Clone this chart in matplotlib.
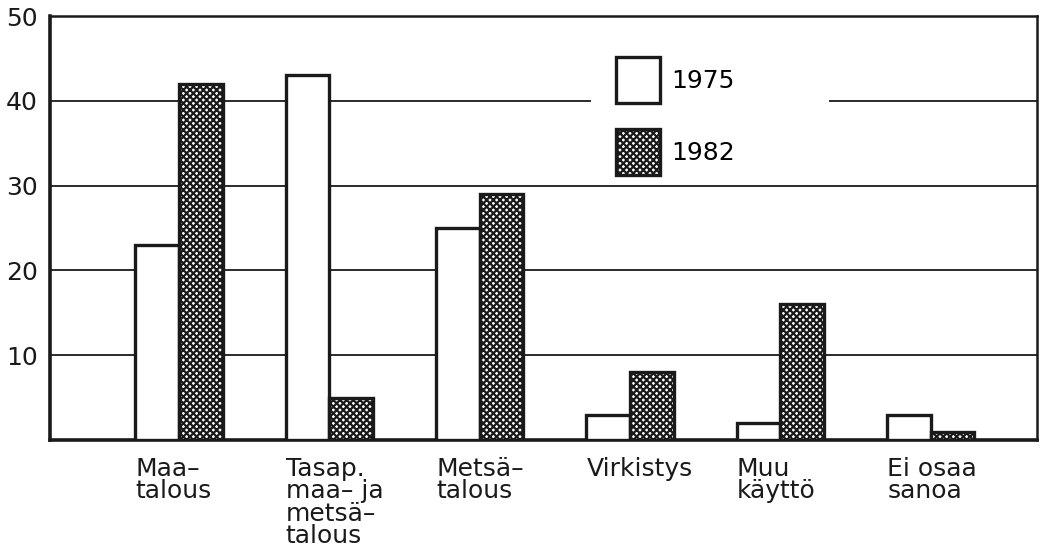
import matplotlib
matplotlib.use("Agg")
import matplotlib.pyplot as plt
from matplotlib.patches import Patch, Rectangle
import numpy as np

plt.rcParams['font.family'] = ['DejaVu Sans']
plt.rcParams['hatch.linewidth'] = 1.6

categories = ["Maa\u2013\ntalous", "Tasap.\nmaa\u2013 ja\nmetsä\u2013\ntalous", "Metsä\u2013\ntalous",
              "Virkistys", "Muu\nkäyttö", "Ei osaa\nsanoa"]
values_1975 = [23, 43, 25, 3, 2, 3]
values_1982 = [42, 5, 29, 8, 16, 1]
series_labels = ["1975", "1982"]
yticks = [10, 20, 30, 40, 50]

INK = '#1a1a1a'
HATCH = 'xxxxx'

fig = plt.figure(figsize=(10.43, 5.47), dpi=100)
ax = fig.add_axes([0.048, 0.1956, 0.946, 0.775])

x = np.arange(len(categories))
w = 0.29
lw = 2.4

ax.bar(x - w / 2, values_1975, w, facecolor='white', edgecolor=INK, linewidth=lw, zorder=3)
ax.bar(x + w / 2, values_1982, w, facecolor='white', edgecolor=INK, hatch=HATCH,
       linewidth=lw, zorder=3)

ax.set_xlim(-0.858, 5.705)
ax.set_ylim(0, 50)
ax.set_yticks(yticks)
ax.set_yticklabels([str(t) for t in yticks], fontsize=18, color=INK)
ax.tick_params(axis='y', length=0, pad=9)
ax.yaxis.grid(True, color=INK, linewidth=1.3, zorder=1)
ax.set_axisbelow(True)

ax.set_xticks(x - w)
ax.set_xticklabels(categories, fontsize=18, ha='left', va='top', linespacing=0.92, color=INK)
ax.tick_params(axis='x', length=0, pad=12)

for s in ['left', 'bottom']:
    ax.spines[s].set_linewidth(2.6)
    ax.spines[s].set_color(INK)
for s in ['top', 'right']:
    ax.spines[s].set_linewidth(1.8)
    ax.spines[s].set_color(INK)

# white area behind legend, interrupting the grid line
ax.add_patch(Rectangle((0.548, 0.66), 0.241, 0.26, transform=ax.transAxes,
                       facecolor='white', edgecolor='none', zorder=2))

h1975 = Patch(facecolor='white', edgecolor=INK, linewidth=lw)
h1982 = Patch(facecolor='white', edgecolor=INK, hatch=HATCH, linewidth=lw)
leg = ax.legend([h1975, h1982], series_labels, loc='upper left', bbox_to_anchor=(0.574, 0.903),
                frameon=False, fontsize=18, handlelength=1.76, handleheight=2.45,
                labelspacing=1.05, handletextpad=0.45, borderpad=0, borderaxespad=0)
leg.set_zorder(5)

fig.savefig("out.png", dpi=100, facecolor='white')
